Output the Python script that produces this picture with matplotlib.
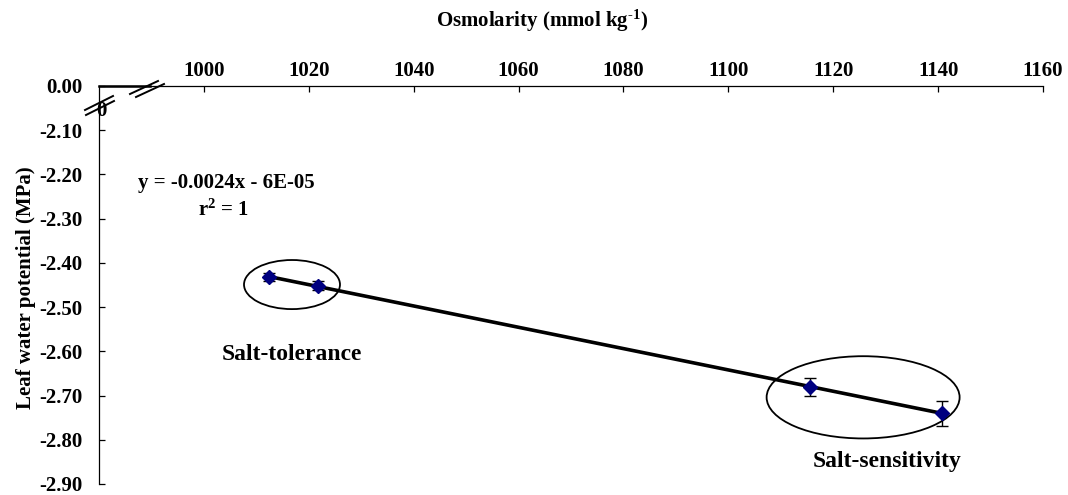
import numpy as np
import matplotlib
matplotlib.use("Agg")
import matplotlib.pyplot as plt
from matplotlib.patches import Ellipse
from matplotlib.lines import Line2D

plt.rcParams['font.family'] = ['Liberation Serif', 'DejaVu Serif']
plt.rcParams['font.weight'] = 'bold'
plt.rcParams['mathtext.fontset'] = 'custom'
plt.rcParams['mathtext.rm'] = 'Liberation Serif:bold'
plt.rcParams['mathtext.bf'] = 'Liberation Serif:bold'
plt.rcParams['mathtext.it'] = 'Liberation Serif:bold'

# ---- data ----
osmolarity = [1012.4, 1021.7, 1115.6, 1140.7]
water_potential = [-2.432, -2.452, -2.680, -2.740]
errors = [0.010, 0.010, 0.020, 0.028]
x_ticks = [1000, 1020, 1040, 1060, 1080, 1100, 1120, 1140, 1160]
y_ticks = [-2.0, -2.1, -2.2, -2.3, -2.4, -2.5, -2.6, -2.7, -2.8, -2.9]
y_tick_labels = ['0.00', '-2.10', '-2.20', '-2.30', '-2.40', '-2.50',
                 '-2.60', '-2.70', '-2.80', '-2.90']
group_labels = ['Salt-tolerance', 'Salt-sensitivity']

W, H = 1068, 495
fig = plt.figure(figsize=(W / 100, H / 100), dpi=100)
ax = fig.add_axes([99 / W, (H - 484) / H, (1043 - 99) / W, (484 - 86) / H])

def px(x, y):
    return x / W, 1 - y / H

ax.set_xlim(980, 1160)
ax.set_ylim(-2.9, -2.0)
ax.spines['right'].set_visible(False)
ax.spines['bottom'].set_visible(False)
for s in ('top', 'left'):
    ax.spines[s].set_linewidth(0.9)
ax.xaxis.tick_top()
ax.set_xticks(x_ticks)
ax.set_xticklabels([str(v) for v in x_ticks])
ax.set_yticks(y_ticks)
ax.set_yticklabels(y_tick_labels)
ax.tick_params(axis='x', direction='in', length=4, width=0.9, pad=3.5, labelsize=15)
ax.tick_params(axis='y', direction='in', length=4, width=0.9, pad=12, labelsize=15)
for lab in ax.get_xticklabels() + ax.get_yticklabels():
    lab.set_fontweight('bold')

# regression line
coef = np.polyfit(osmolarity, water_potential, 1)
xl = np.array([min(osmolarity), max(osmolarity)])
ax.plot(xl, np.polyval(coef, xl), color='black', lw=2.6, zorder=3)

# points with error bars
ax.errorbar(osmolarity, water_potential, yerr=errors, fmt='D', color='#000080',
            markersize=7, ecolor='black', elinewidth=1.0, capsize=4.5,
            capthick=1.0, zorder=4)

# ellipses
ax.add_patch(Ellipse((1016.8, -2.449), 18.3, 0.111, fill=False, lw=1.3,
                     edgecolor='black', zorder=2))
ax.add_patch(Ellipse((1125.7, -2.704), 36.8, 0.186, fill=False, lw=1.3,
                     edgecolor='black', zorder=2))

# annotations
ax.text(1016.8, -2.608, group_labels[0], ha='center', va='center',
        fontsize=17, fontweight='bold')
ax.text(1130.3, -2.848, group_labels[1], ha='center', va='center',
        fontsize=17, fontweight='bold')
ax.text(1004.3, -2.220, 'y = -0.0024x - 6E-05', ha='center', va='center',
        fontsize=15, fontweight='bold')
ax.text(1003.8, -2.280, r'r$^{2}$ = 1', ha='center', va='center',
        fontsize=15, fontweight='bold')
ax.text(980.4, -2.057, '0', ha='center', va='center', fontsize=15,
        fontweight='bold', zorder=1)

# axis titles
fig.text(*px(542, 21), r'Osmolarity (mmol kg$^{\text{-1}}$)', ha='center',
         va='center', fontsize=15, fontweight='bold')
fig.text(*px(26, 288), 'Leaf water potential (MPa)', ha='center', va='center',
         rotation=90, fontsize=15, fontweight='bold')

# axis break marks
tf = fig.transFigure
for (x0, y0, x1, y1) in [(130, 94, 158, 81), (136, 97, 164, 84),
                         (85, 110, 113, 96), (86, 115, 114, 101)]:
    a = px(x0, y0)
    b = px(x1, y1)
    fig.add_artist(Line2D([a[0], b[0]], [a[1], b[1]], transform=tf,
                          color='black', lw=1.4))
a = px(99, 86); b = px(150, 86)
fig.add_artist(Line2D([a[0], b[0]], [a[1], b[1]], transform=tf,
                      color='black', lw=1.8))

fig.savefig('out.png', dpi=100)
